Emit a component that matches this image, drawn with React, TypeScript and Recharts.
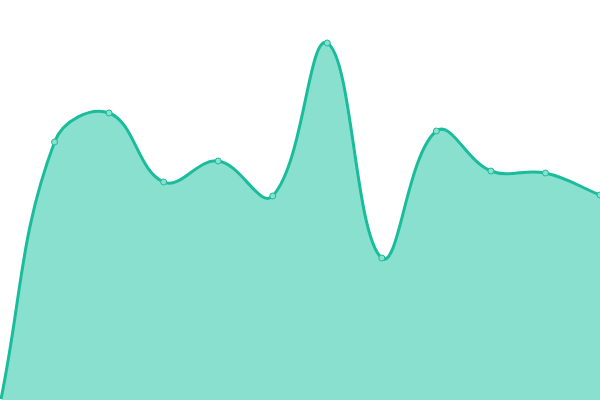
import { AreaChart, Area, XAxis, YAxis } from "recharts"

const categories = ["1", "2", "3", "4", "5", "6", "7", "8", "9", "10", "11", "12"]
const values = [-4, 258, 287, 218, 239, 204, 357, 142, 269, 229, 227, 205]

const data = categories.map((name, i) => ({ name, value: values[i] }))

// spline with tension, control points weighted by distance to neighbours
function splineCurve(tension: number) {
    return function (context: any) {
        let pts: number[][] = []
        let line = NaN
        return {
            areaStart() { line = 0 },
            areaEnd() { line = NaN },
            lineStart() { pts = [] },
            point(x: number, y: number) { pts.push([+x, +y]) },
            lineEnd() {
                const n = pts.length
                if (n > 0) {
                    if (line) context.lineTo(pts[0][0], pts[0][1])
                    else context.moveTo(pts[0][0], pts[0][1])
                    const cps = pts.map((cur, i) => {
                        const prev = pts[i - 1] || cur
                        const next = pts[i + 1] || cur
                        const d01 = Math.hypot(cur[0] - prev[0], cur[1] - prev[1])
                        const d12 = Math.hypot(next[0] - cur[0], next[1] - cur[1])
                        let s01 = d01 / (d01 + d12)
                        let s12 = d12 / (d01 + d12)
                        if (!isFinite(s01)) s01 = 0
                        if (!isFinite(s12)) s12 = 0
                        const fa = tension * s01
                        const fb = tension * s12
                        return {
                            px: cur[0] - fa * (next[0] - prev[0]),
                            py: cur[1] - fa * (next[1] - prev[1]),
                            nx: cur[0] + fb * (next[0] - prev[0]),
                            ny: cur[1] + fb * (next[1] - prev[1]),
                        }
                    })
                    for (let i = 0; i < n - 1; i++) {
                        context.bezierCurveTo(cps[i].nx, cps[i].ny, cps[i + 1].px, cps[i + 1].py, pts[i + 1][0], pts[i + 1][1])
                    }
                }
                if (line || (line !== 0 && n === 1)) context.closePath()
                line = 1 - line
            },
        }
    }
}

const curve = splineCurve(0.4)

export default function App() {
    return (
        <div style={{ position: "fixed", left: 0, top: 0 }}>
            <AreaChart width={600} height={400} data={data} margin={{ top: 0, right: 0, bottom: 0, left: 0 }}>
                <XAxis dataKey="name" hide />
                <YAxis hide domain={[0, 400]} allowDataOverflow />
                <Area
                    type={curve as any}
                    dataKey="value"
                    stroke="#1abc9c"
                    strokeWidth={3}
                    fill="#8ae0cf"
                    fillOpacity={1}
                    dot={{ r: 3, fill: "#8ae0cf", stroke: "#1abc9c", strokeWidth: 1, fillOpacity: 1 }}
                    isAnimationActive={false}
                />
            </AreaChart>
        </div>
    )
}
